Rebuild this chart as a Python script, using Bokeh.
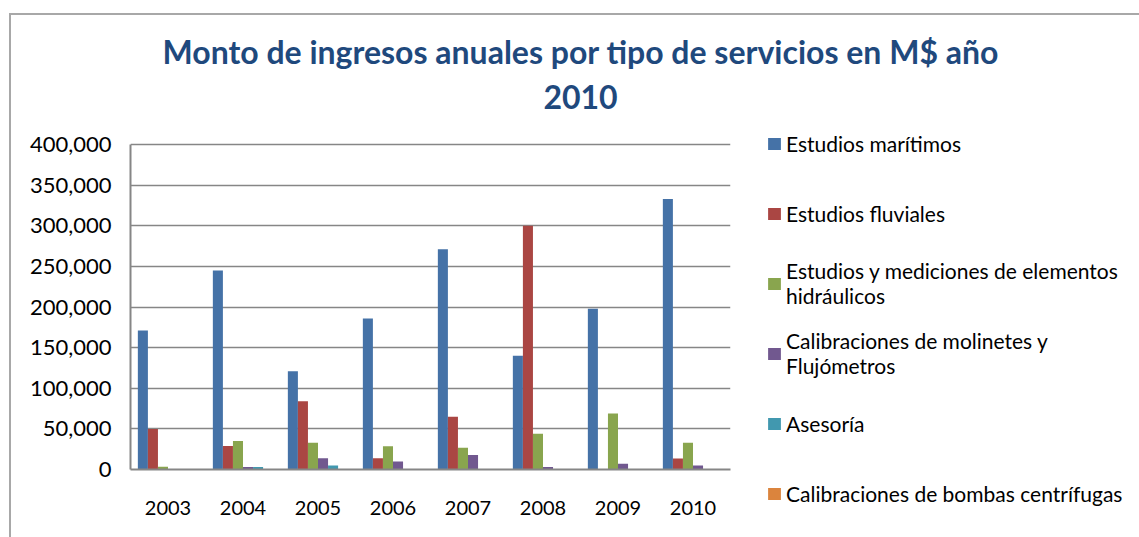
from bokeh.plotting import figure
from bokeh.models import (ColumnDataSource, FactorRange, Range1d, Legend, LegendItem, Label,
                          Title, NumeralTickFormatter, FixedTicker)
from bokeh.transform import dodge
from bokeh.embed import file_html
from bokeh.resources import INLINE

years = ["2003", "2004", "2005", "2006", "2007", "2008", "2009", "2010"]
maritimos = [171000, 245000, 121000, 186000, 271000, 140000, 198000, 333000]
fluviales = [50000, 29000, 84000, 14000, 65000, 300000, 0, 13500]
hidraulicos = [3300, 35000, 33000, 28700, 26700, 44000, 69000, 33000]
molinetes = [0, 3000, 14000, 10000, 18000, 3000, 7000, 5000]
asesoria = [0, 3000, 5000, 0, 0, 0, 0, 0]
bombas = [0, 0, 0, 0, 0, 0, 0, 0]
y_ticks = [0, 50000, 100000, 150000, 200000, 250000, 300000, 350000, 400000]

series_keys = ["maritimos", "fluviales", "hidraulicos", "molinetes", "asesoria", "bombas"]
series_labels = ["Estudios marítimos", "Estudios fluviales",
                 "Estudios y mediciones de elementos\nhidráulicos",
                 "Calibraciones de molinetes y\nFlujómetros",
                 "Asesoría", "Calibraciones de bombas centrífugas"]
colors = ["#4572A7", "#AA4643", "#89A54E", "#71588F", "#4198AF", "#DB843D"]

title_lines = ["Monto de ingresos anuales por tipo de servicios en M$ año", "2010"]

source = ColumnDataSource(data=dict(year=years, maritimos=maritimos, fluviales=fluviales,
                                    hidraulicos=hidraulicos, molinetes=molinetes,
                                    asesoria=asesoria, bombas=bombas))

FONT = "Lato"
W, H = 1128, 522
# frame: page x 130..730, page y 82..469 (value 400,000 sits at page y 144)
y_top = max(y_ticks) * (469 - 82) / (469 - 144)

p = figure(width=W, height=H, frame_width=600, frame_height=387,
           x_range=FactorRange(*years), y_range=Range1d(0, y_top),
           output_backend="svg", toolbar_location=None,
           min_border_left=119, min_border_right=0, min_border_top=67, min_border_bottom=H - 454,
           styles={"margin-top": "13px", "margin-left": "9px",
                   "border-top": "2px solid #a8a8a8", "border-left": "2px solid #a8a8a8"})
p.outline_line_color = None
p.background_fill_color = "white"
p.border_fill_color = "white"

bw = 0.134
renderers = []
for i, key in enumerate(series_keys):
    r = p.vbar(x=dodge("year", (i - 2.5) * bw, range=p.x_range), top=key, width=bw,
               source=source, fill_color=colors[i], line_color=None)
    renderers.append(r)

# axes
p.yaxis.ticker = FixedTicker(ticks=y_ticks)
p.yaxis.bounds = (0, max(y_ticks))
p.yaxis.formatter = NumeralTickFormatter(format="0,0")
for ax in (p.xaxis[0], p.yaxis[0]):
    ax.axis_line_color = "#868686"
    ax.axis_line_width = 2
    ax.major_tick_line_color = None
    ax.minor_tick_line_color = None
    ax.major_label_text_font = FONT
    ax.major_label_text_color = "black"
p.yaxis.major_label_text_font_size = "22px"
p.xaxis.major_label_text_font_size = "20px"
p.yaxis.major_label_standoff = 13
p.xaxis.major_label_standoff = 25

p.xgrid.grid_line_color = None
p.ygrid.grid_line_color = "#868686"
p.ygrid.grid_line_width = 1.5
p.ygrid.ticker = FixedTicker(ticks=y_ticks)

# title
p.add_layout(Title(text=title_lines[0], align="left", offset=32, standoff=24,
                   text_font=FONT, text_font_style="bold", text_font_size="32px",
                   text_color="#1F497D"), "above")
p.add_layout(Label(x=450, y=469 - 96, x_units="screen", y_units="screen", text=title_lines[1],
                   text_align="center", text_baseline="middle", text_font=FONT,
                   text_font_style="bold", text_font_size="32px", text_color="#1F497D"))

legend = Legend(items=[LegendItem(label=lab, renderers=[r]) for lab, r in zip(series_labels, renderers)],
                location="top_left", padding=0, margin=36, spacing=20, ncols=1,
                border_line_color=None, background_fill_alpha=0,
                glyph_width=16, glyph_height=15, label_height=50, label_standoff=4,
                label_text_font=FONT, label_text_font_size="21px", label_text_line_height=1.3,
                label_text_color="black")
p.add_layout(legend, "right")

open("out.html", "w").write(file_html(p, INLINE))
